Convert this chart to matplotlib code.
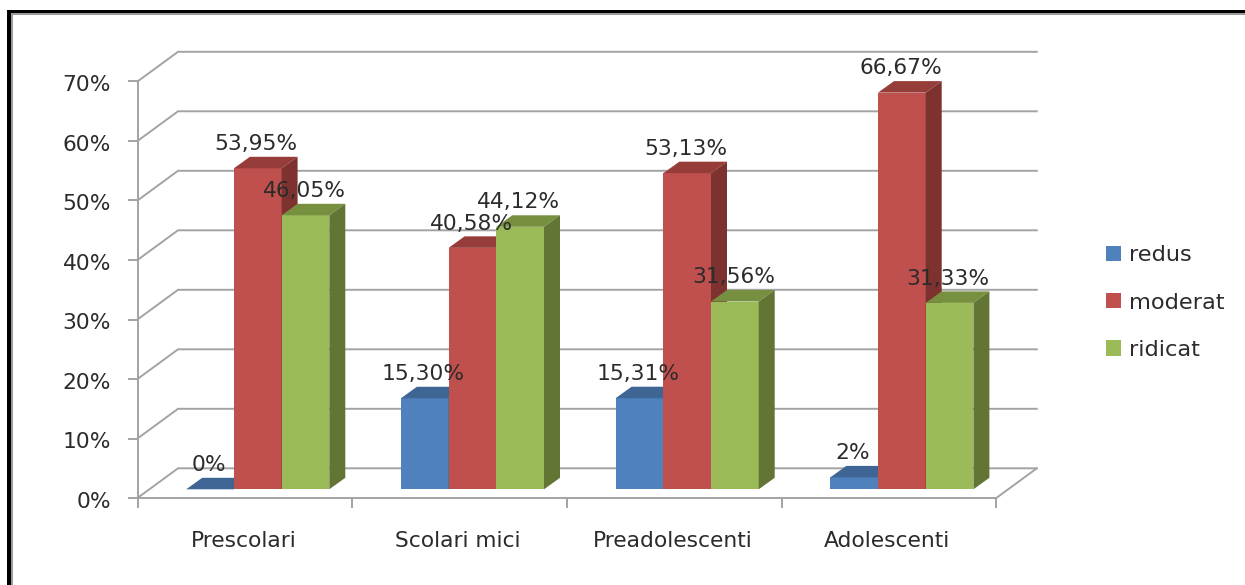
import numpy as np
import matplotlib
matplotlib.use('Agg')
import matplotlib.pyplot as plt
from matplotlib.patches import Patch, Rectangle
from matplotlib.transforms import ScaledTranslation

# Values
categories = ['Prescolari', 'Scolari mici', 'Preadolescenti', 'Adolescenti']
redus = [0, 15.30, 15.31, 2]
moderat = [53.95, 40.58, 53.13, 66.67]
ridicat = [46.05, 44.12, 31.56, 31.33]
redus_labels = ['0%', '15,30%', '15,31%', '2%']
moderat_labels = ['53,95%', '40,58%', '53,13%', '66,67%']
ridicat_labels = ['46,05%', '44,12%', '31,56%', '31,33%']
y_ticks = [0, 10, 20, 30, 40, 50, 60, 70]

W, H = 1245, 585
FONT = 15.7
GREY = '#a3a3a3'
TEXT = '#2b2b2b'
LW = 1.4

fig = plt.figure(figsize=(W / 100, H / 100), dpi=100)

# Plot area in pixels: front wall of the 3D box
left, right, y0, y70 = 137.5, 996.3, 498.0, 81.5
ax = fig.add_axes([left / W, 1 - y0 / H, (right - left) / W, (y0 - y70) / H])
ax.set_xlim(0, 4)
ax.set_ylim(0, 70)
ax.patch.set_alpha(0)

px_x = 4 / (right - left)  # data units per pixel
px_y = 70 / (y0 - y70)


def draw_bar(x, value, width, colors):
    """Front, top and side faces of one bar; x is the front left corner"""
    dx, dy = 16 * px_x, 11.5 * px_y
    base = 8.7 * px_y
    top = base + value
    front, roof, side = colors
    ax.fill([x, x + width, x + width, x], [base, base, top, top],
            color=front, lw=0, clip_on=False, zorder=3)
    ax.fill([x, x + width, x + width + dx, x + dx], [top, top, top + dy, top + dy],
            color=roof, lw=0, clip_on=False, zorder=3)
    ax.fill([x + width, x + width + dx, x + width + dx, x + width],
            [base, base + dy, top + dy, top],
            color=side, lw=0, clip_on=False, zorder=3)


# Back wall gridlines and left wall diagonals
wall_dx, wall_dy = 40.5 * px_x, 29.7 * px_y
for t in y_ticks:
    ax.plot([0, wall_dx, 4 + wall_dx], [t, t + wall_dy, t + wall_dy],
            color=GREY, lw=LW, clip_on=False, zorder=1, solid_joinstyle='miter')
ax.plot([4, 4 + wall_dx], [0, wall_dy], color=GREY, lw=LW, clip_on=False, zorder=1)

# Bars
series = [
    (redus, redus_labels, ('#4f81bd', '#3e6594', '#385d8a')),
    (moderat, moderat_labels, ('#c0504d', '#963d3a', '#7e3230')),
    (ridicat, ridicat_labels, ('#9bbb59', '#76903f', '#637535')),
]
bar_w = 47.7 * px_x
first = (186.2 - left) * px_x
for s, (values, labels, colors) in enumerate(series):
    for i, v in enumerate(values):
        draw_bar(i + first + s * bar_w, v, bar_w, colors)

# Data labels go on top of everything
for s, (values, labels, colors) in enumerate(series):
    for i, v in enumerate(values):
        xc = i + first + (s + 0.5) * bar_w
        ax.annotate(labels[i], (xc, 8.7 * px_y + v), xytext=(-1, 13.2),
                    textcoords='offset points', ha='center', va='baseline',
                    fontsize=FONT, color=TEXT, annotation_clip=False, zorder=5)

# Axes
for sp in ['top', 'right']:
    ax.spines[sp].set_visible(False)
for sp in ['left', 'bottom']:
    ax.spines[sp].set_color(GREY)
    ax.spines[sp].set_linewidth(LW)
    ax.spines[sp].set_zorder(2)
ax.set_yticks(y_ticks)
ax.set_yticklabels([f'{t}%' for t in y_ticks], fontsize=FONT, color=TEXT)
ax.set_xticks(range(5))
ax.set_xticklabels([])
ax.set_xticks(np.arange(4) + 0.5, minor=True)
ax.set_xticklabels(categories, minor=True, fontsize=FONT, color=TEXT)
ax.tick_params(axis='y', length=7, width=LW, color=GREY, pad=12)
ax.tick_params(axis='x', which='major', length=7, width=LW, color=GREY)
ax.tick_params(axis='x', which='minor', length=0, pad=24)

# y labels sit a little under their ticks, category labels a little to the left
shift_y = ScaledTranslation(0, -1.6 / 100, fig.dpi_scale_trans)
for lab in ax.get_yticklabels():
    lab.set_transform(lab.get_transform() + shift_y)
shift_x = ScaledTranslation(-1.5 / 100, 0, fig.dpi_scale_trans)
for lab in ax.get_xticklabels(minor=True):
    lab.set_transform(lab.get_transform() + shift_x)

# Legend
handles = [Patch(facecolor=c[2][0], edgecolor='none', label=n)
           for c, n in zip(series, ['redus', 'moderat', 'ridicat'])]
fig.legend(handles=handles, loc='center left',
           bbox_to_anchor=(1106 / W, 1 - 302.5 / H), frameon=False, fontsize=16.2,
           labelcolor=TEXT, handlelength=0.67, handleheight=0.67, handletextpad=0.36,
           labelspacing=1.22, borderpad=0, borderaxespad=0)

# Outer frame from the screenshot, only top and left are in view
for x, y, w, h, c in [(11, 13, 2, H - 13, '#9a9a9a'), (11, 13, W - 11, 2, '#9a9a9a'),
                      (7, 10, 4, H - 10, 'black'), (7, 10, W - 7, 3.3, 'black')]:
    fig.add_artist(Rectangle((x / W, 1 - (y + h) / H), w / W, h / H,
                             transform=fig.transFigure, facecolor=c, edgecolor='none'))

fig.savefig('out.png', dpi=100)
